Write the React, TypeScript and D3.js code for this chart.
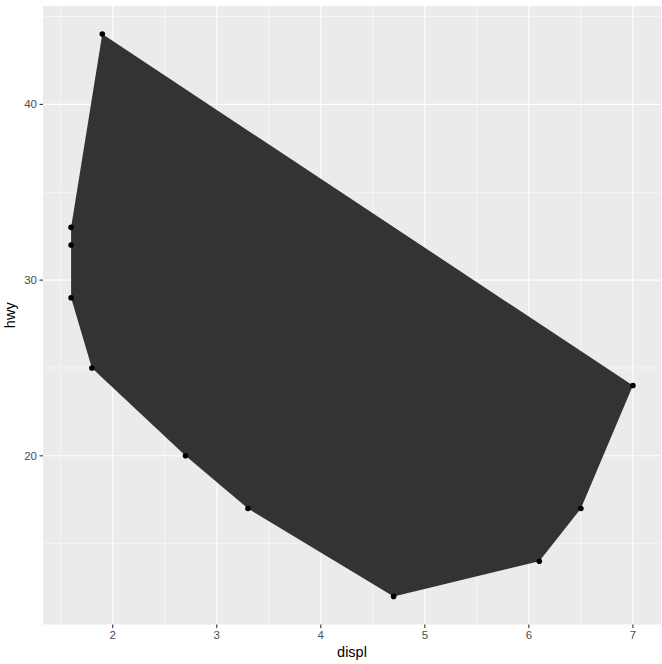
import React from "react";
import * as d3 from "d3";

// convex hull vertices of mpg (displ, hwy)
const displ = [1.9, 1.6, 1.6, 1.6, 1.8, 2.7, 3.3, 4.7, 6.1, 6.5, 7.0];
const hwy = [44, 33, 32, 29, 25, 20, 17, 12, 14, 17, 24];
const xTicks = [2, 3, 4, 5, 6, 7];
const yTicks = [20, 30, 40];
const xMinor = [1.5, 2.5, 3.5, 4.5, 5.5, 6.5];
const yMinor = [15, 25, 35, 45];

const W = 662;
const H = 664;
const left = 43;
const right = 661;
const top = 6;
const bottom = 624.5;

const App = () => {
  const xScale = d3.scaleLinear().domain([1.33, 7.27]).range([left, right]);
  const yScale = d3.scaleLinear().domain([10.4, 45.6]).range([bottom, top]);

  const pts: [number, number][] = displ.map((d, i) => [xScale(d), yScale(hwy[i])]);
  const hull = d3.line()(pts.concat([pts[0]])) + "Z";

  const font = "Liberation Sans, Arial, sans-serif";

  return (
    <svg width={W} height={H} style={{ position: "absolute", left: 0, top: 0 }}>
      <rect x={0} y={0} width={W} height={H} fill="#fff" />
      <rect x={left} y={top} width={right - left} height={bottom - top} fill="#ebebeb" />
      {xMinor.map((t) => (
        <line key={"xm" + t} x1={xScale(t)} x2={xScale(t)} y1={top} y2={bottom} stroke="#fff" strokeWidth={0.55} />
      ))}
      {yMinor.map((t) => (
        <line key={"ym" + t} x1={left} x2={right} y1={yScale(t)} y2={yScale(t)} stroke="#fff" strokeWidth={0.55} />
      ))}
      {xTicks.map((t) => (
        <line key={"x" + t} x1={xScale(t)} x2={xScale(t)} y1={top} y2={bottom} stroke="#fff" strokeWidth={1.1} />
      ))}
      {yTicks.map((t) => (
        <line key={"y" + t} x1={left} x2={right} y1={yScale(t)} y2={yScale(t)} stroke="#fff" strokeWidth={1.1} />
      ))}
      <path d={hull} fill="#333333" />
      {pts.map((p, i) => (
        <circle key={i} cx={p[0]} cy={p[1]} r={2.8} fill="#000" />
      ))}
      {xTicks.map((t) => (
        <g key={"xt" + t}>
          <line x1={xScale(t)} x2={xScale(t)} y1={bottom} y2={bottom + 3.5} stroke="#333" strokeWidth={1.1} />
          <text x={xScale(t)} y={bottom + 14} textAnchor="middle" fontFamily={font} fontSize={11.5} fill="#4d4d4d">
            {t}
          </text>
        </g>
      ))}
      {yTicks.map((t) => (
        <g key={"yt" + t}>
          <line x1={left - 3.5} x2={left} y1={yScale(t)} y2={yScale(t)} stroke="#333" strokeWidth={1.1} />
          <text x={left - 6} y={yScale(t) + 4} textAnchor="end" fontFamily={font} fontSize={11.5} fill="#4d4d4d">
            {t}
          </text>
        </g>
      ))}
      <text x={(left + right) / 2} y={H - 7} textAnchor="middle" fontFamily={font} fontSize={14.5} fill="#000">
        displ
      </text>
      <text
        transform={`translate(${15},${(top + bottom) / 2}) rotate(-90)`}
        textAnchor="middle"
        fontFamily={font}
        fontSize={14.5}
        fill="#000"
      >
        hwy
      </text>
    </svg>
  );
};

export default App;
